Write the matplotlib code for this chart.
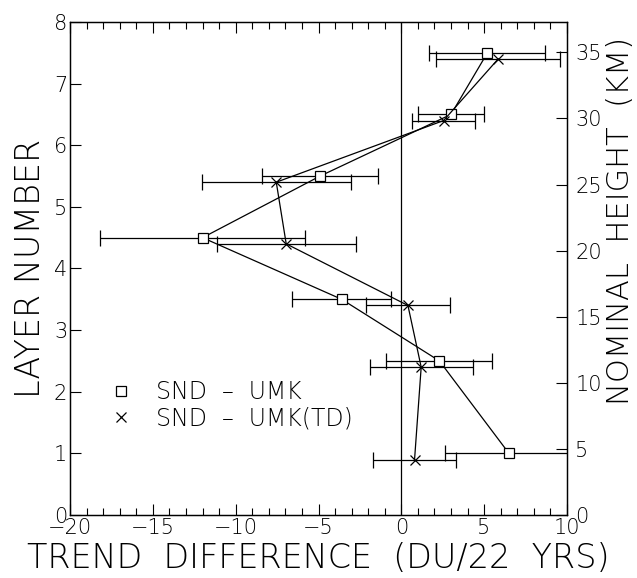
import matplotlib
matplotlib.use('Agg')
import matplotlib.pyplot as plt
from matplotlib.lines import Line2D

plt.rcParams['font.family'] = ['DejaVu Sans']
plt.rcParams['font.weight'] = 200
plt.rcParams['axes.labelweight'] = 200
plt.rcParams['axes.unicode_minus'] = True

# SND - UMK (squares)
snd_layer = [7.5, 6.5, 5.5, 4.5, 3.5, 2.5, 1.0]
snd_diff = [5.2, 3.0, -4.9, -12.0, -3.6, 2.3, 6.5]
snd_err = [3.5, 2.0, 3.5, 6.2, 3.0, 3.2, 3.85]

# SND - UMK(TD) (crosses)
td_layer = [7.4, 6.4, 5.4, 4.4, 3.4, 2.4, 0.9]
td_diff = [5.85, 2.55, -7.55, -6.95, 0.4, 1.2, 0.8]
td_err = [3.75, 1.9, 4.5, 4.2, 2.55, 3.1, 2.5]

legend_labels = ["SND  \u2013  UMK", "SND  \u2013  UMK(TD)"]
x_ticks = [-20, -15, -10, -5, 0, 5, 10]
km_ticks = [0, 5, 10, 15, 20, 25, 30, 35]

fig = plt.figure(figsize=(6.37, 5.78), dpi=100)
ax = fig.add_axes([0.110, 0.109, 0.780, 0.853])

ax.axvline(0, color='black', lw=0.9)

ax.errorbar(snd_diff, snd_layer, xerr=snd_err, color='black', lw=0.9,
            elinewidth=0.9, capsize=6, capthick=0.9,
            marker='s', ms=7, mfc='white', mec='black', mew=0.9)
ax.errorbar(td_diff, td_layer, xerr=td_err, color='black', lw=0.9,
            elinewidth=0.9, capsize=6, capthick=0.9,
            marker='x', ms=7, mec='black', mew=0.9)

ax.set_xlim(-20, 10)
ax.set_ylim(0, 8)
ax.set_xticks(x_ticks)
ax.set_xticks(range(-20, 11), minor=True)
ax.set_yticks(range(0, 9))
ax.tick_params(axis='x', which='major', direction='in', top=True, length=8,
               width=0.8, labelsize=15, pad=2)
ax.tick_params(axis='x', which='minor', direction='in', top=True, length=5,
               width=0.8)
ax.tick_params(axis='y', which='major', direction='in', length=8, width=0.8,
               labelsize=15, pad=2)

ax.set_xlabel("TREND  DIFFERENCE  (DU/22  YRS)", fontsize=24, labelpad=3)
ax.set_ylabel("LAYER NUMBER", fontsize=24, labelpad=5)

ax2 = ax.twinx()
ax2.set_ylim(0, 37.3)
ax2.set_yticks(km_ticks)
ax2.tick_params(axis='y', direction='in', length=8, width=0.8,
                labelsize=15, pad=6)
ax2.set_ylabel("NOMINAL  HEIGHT  (KM)", fontsize=22)
ax2.yaxis.set_label_coords(1.078, 0.596)

for a in (ax, ax2):
    for s in a.spines.values():
        s.set_linewidth(0.9)

handles = [
    Line2D([], [], ls='none', marker='s', ms=7, mfc='white', mec='black', mew=0.9),
    Line2D([], [], ls='none', marker='x', ms=7, mec='black', mew=0.9),
]
ax.legend(handles, legend_labels, loc='lower left', bbox_to_anchor=(0.055, 0.148),
          frameon=False, fontsize=17, handlelength=1.0, handletextpad=1.0,
          labelspacing=0.1, borderpad=0)

fig.savefig("out.png", dpi=100)
